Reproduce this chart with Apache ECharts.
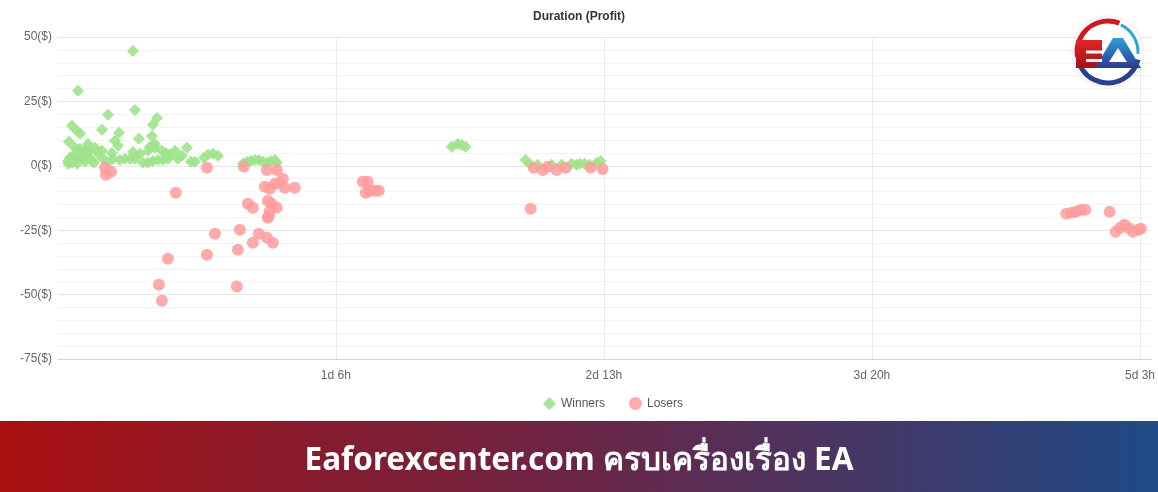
<!DOCTYPE html>
<html>
<head>
<meta charset="utf-8">
<script src="https://cdn.jsdelivr.net/npm/echarts@6/dist/echarts.min.js"></script>
<style>
html,body{margin:0;padding:0;background:#fff;}
#chart{width:1158px;height:492px;}
</style>
</head>
<body>
<div id="chart"></div>
<script>
// Duration in hours, profit in $
const winners = [
  [7.51,44.6],[1.18,29.1],[0.48,15.5],[1.06,13.6],[1.41,12.4],[0.14,9.3],[4.63,19.8],[3.94,14.0],
  [5.90,12.8],[5.44,9.7],[5.78,7.8],[7.74,21.7],[8.20,10.5],[10.28,18.6],[9.81,15.9],[9.70,11.6],
  [10.05,8.5],[9.47,7.4],[2.33,8.5],[0.83,7.0],[1.41,6.6],[1.98,5.8],[2.56,6.2],[3.13,7.0],
  [0.02,1.9],[0.05,0.8],[0.25,3.1],[0.60,3.9],[0.94,2.7],[1.29,4.3],[1.64,3.1],[1.98,1.6],
  [2.33,3.5],[2.67,2.3],[3.02,1.2],[0.48,1.2],[1.06,0.8],[1.75,5.0],[2.21,4.7],[3.48,4.7],
  [3.94,5.8],[4.06,2.7],[4.63,1.2],[5.09,5.0],[5.21,2.7],[6.01,2.3],[6.59,2.7],[7.17,2.7],
  [7.74,2.7],[7.51,5.4],[8.32,4.7],[8.66,1.2],[9.24,1.2],[9.81,1.9],[10.39,2.3],[10.97,2.3],
  [11.54,2.7],[9.24,5.8],[10.05,7.0],[10.85,5.8],[11.31,5.0],[11.77,4.3],[12.35,5.8],[12.69,2.7],
  [13.16,3.9],[13.73,7.0],[14.19,1.6],[14.65,1.6],[15.69,3.1],[16.15,4.3],[16.73,4.7],[17.30,3.9],
  [20.18,0.8],[20.64,1.6],[21.10,1.9],[21.56,2.3],[22.03,2.3],[22.49,1.6],[22.95,1.2],[23.41,1.9],
  [23.87,2.3],[24.10,1.2],[44.26,7.4],[44.95,8.5],[45.41,8.1],[45.87,7.4],[52.78,2.3],[53.24,0.8],
  [54.16,0.4],[55.78,0.4],[56.93,0.4],[58.08,0.8],[58.66,0.4],[59.00,0.8],[59.58,0.8],[60.15,0.4],
  [60.96,1.2],[61.42,1.9]
];
const losers = [
  [4.29,-0.8],[4.40,-3.5],[4.98,-2.3],[12.46,-10.5],[16.04,-0.8],[20.30,-0.4],[22.95,-1.6],[24.10,-1.6],
  [24.79,-5.0],[25.02,-8.5],[26.17,-8.5],[22.72,-8.1],[23.29,-8.9],[23.87,-7.0],[24.45,-6.6],[23.06,-13.6],
  [20.76,-14.7],[21.33,-16.3],[23.52,-14.7],[24.10,-16.3],[23.29,-17.5],[23.06,-20.2],[23.18,-19.4],[16.96,-26.4],
  [19.84,-24.8],[22.03,-26.4],[21.33,-29.9],[22.95,-27.9],[23.64,-29.9],[11.54,-36.1],[16.04,-34.5],[19.61,-32.6],
  [10.51,-46.2],[10.85,-52.4],[19.49,-46.9],[34.01,-6.2],[34.58,-6.2],[34.35,-10.5],[34.81,-9.7],[35.39,-9.7],
  [35.85,-9.7],[53.36,-16.7],[53.71,-0.8],[54.75,-1.6],[55.32,-0.4],[56.36,-1.6],[57.39,-0.8],[60.27,-0.8],
  [61.65,-1.2],[115.1,-18.6],[115.7,-18.2],[116.2,-17.8],[116.8,-17.1],[117.3,-17.1],[120.1,-17.8],[120.8,-25.6],
  [121.3,-24.1],[121.8,-22.9],[122.3,-24.1],[122.8,-25.6],[123.4,-24.8],[123.7,-24.4]
];
const xTickValues = [30.9, 61.8, 92.7, 123.6];
const xTickLabels = ['1d 6h', '2d 13h', '3d 20h', '5d 3h'];
const yTicks = [-75, -50, -25, 0, 25, 50];

const chart = echarts.init(document.getElementById('chart'));
const font = '"Liberation Sans", Arial, sans-serif';
chart.setOption({
  animation: false,
  title: {
    text: 'Duration (Profit)', left: 'center', top: 6,
    textStyle: {fontFamily: font, fontSize: 12, fontWeight: 'bold', color: '#333'}
  },
  legend: {
    left: 538, top: 392, itemWidth: 13, itemHeight: 13, itemGap: 24,
    textStyle: {fontFamily: font, fontSize: 12, color: '#555'},
    data: [{name: 'Winners', icon: 'diamond'}, {name: 'Losers', icon: 'circle'}]
  },
  grid: {left: 58, right: 6, top: 37, bottom: 133},
  xAxis: {
    type: 'value', min: -1.13, max: 124.9,
    axisLine: {onZero: false, lineStyle: {color: '#ccd6eb'}},
    axisTick: {show: false, customValues: xTickValues},
    axisLabel: {
      customValues: xTickValues, margin: 11,
      fontFamily: font, fontSize: 12, color: '#666',
      formatter: v => xTickLabels[xTickValues.indexOf(v)]
    },
    splitLine: {show: true, lineStyle: {color: '#ececec', width: 1}}
  },
  yAxis: {
    type: 'value', min: yTicks[0], max: yTicks[yTicks.length - 1], interval: 25,
    axisLine: {show: false}, axisTick: {show: false},
    axisLabel: {formatter: '{value}($)', margin: 6, fontFamily: font, fontSize: 12, color: '#666'},
    splitLine: {lineStyle: {color: '#e6e6e6'}},
    minorTick: {show: false, splitNumber: 5},
    minorSplitLine: {show: true, lineStyle: {color: '#f3f3f3'}}
  },
  series: [
    {name: 'Winners', type: 'scatter', symbol: 'diamond', symbolSize: 12,
     itemStyle: {color: '#9fe38b', opacity: 0.9}, data: winners},
    {name: 'Losers', type: 'scatter', symbol: 'circle', symbolSize: 12,
     itemStyle: {color: '#ff9c9c', opacity: 0.85}, data: losers}
  ],
  graphic: [
    {type: 'rect', shape: {x: 0, y: 421, width: 1158, height: 71}, z: 10,
     style: {fill: new echarts.graphic.LinearGradient(0, 0, 1, 0, [
       {offset: 0, color: '#a80f10'}, {offset: 0.5, color: '#6b2546'}, {offset: 1, color: '#1f4a86'}])}},
    {type: 'text', x: 579, y: 461, z: 11,
     style: {text: 'Eaforexcenter.com ครบเครื่องเรื่อง EA', fill: '#fff', align: 'center', verticalAlign: 'middle',
       font: 'bold 31.5px "Noto Sans", "DejaVu Sans", sans-serif'}},
    // logo
    {type: 'circle', shape: {cx: 1108, cy: 52, r: 35}, z: 10,
     style: {fill: '#fff', shadowBlur: 3, shadowColor: 'rgba(0,0,0,0.15)'}},
    {type: 'arc', shape: {cx: 1108, cy: 52, r: 31, startAngle: Math.PI * 0.95, endAngle: Math.PI * 1.62}, z: 11,
     style: {stroke: '#d4171e', lineWidth: 5, fill: 'none'}},
    {type: 'arc', shape: {cx: 1108, cy: 52, r: 30, startAngle: Math.PI * 1.64, endAngle: Math.PI * 2.02}, z: 11,
     style: {stroke: '#2aa6e0', lineWidth: 3, fill: 'none'}},
    {type: 'arc', shape: {cx: 1108, cy: 52, r: 31, startAngle: Math.PI * 0.08, endAngle: Math.PI * 0.88}, z: 11,
     style: {stroke: '#2b3f8f', lineWidth: 5, fill: 'none'}},
    {type: 'rect', shape: {x: 1076, y: 40, width: 26, height: 28}, z: 12,
     style: {fill: new echarts.graphic.LinearGradient(0, 0, 0, 1, [{offset: 0, color: '#e0262a'}, {offset: 1, color: '#a80f10'}])}},
    {type: 'rect', shape: {x: 1086, y: 50.5, width: 16, height: 3}, z: 13, style: {fill: '#fff'}},
    {type: 'rect', shape: {x: 1086, y: 59, width: 16, height: 3}, z: 13, style: {fill: '#fff'}},
    {type: 'polygon', shape: {points: [[1095, 68], [1113, 38], [1123, 38], [1141, 68]]}, z: 12,
     style: {fill: new echarts.graphic.LinearGradient(0, 0, 0, 1, [{offset: 0, color: '#2a9fdc'}, {offset: 1, color: '#2b3a8c'}])}},
    {type: 'polygon', shape: {points: [[1109, 62], [1118, 48], [1127, 62]]}, z: 13, style: {fill: '#fff'}}
  ]
});
</script>
</body>
</html>
